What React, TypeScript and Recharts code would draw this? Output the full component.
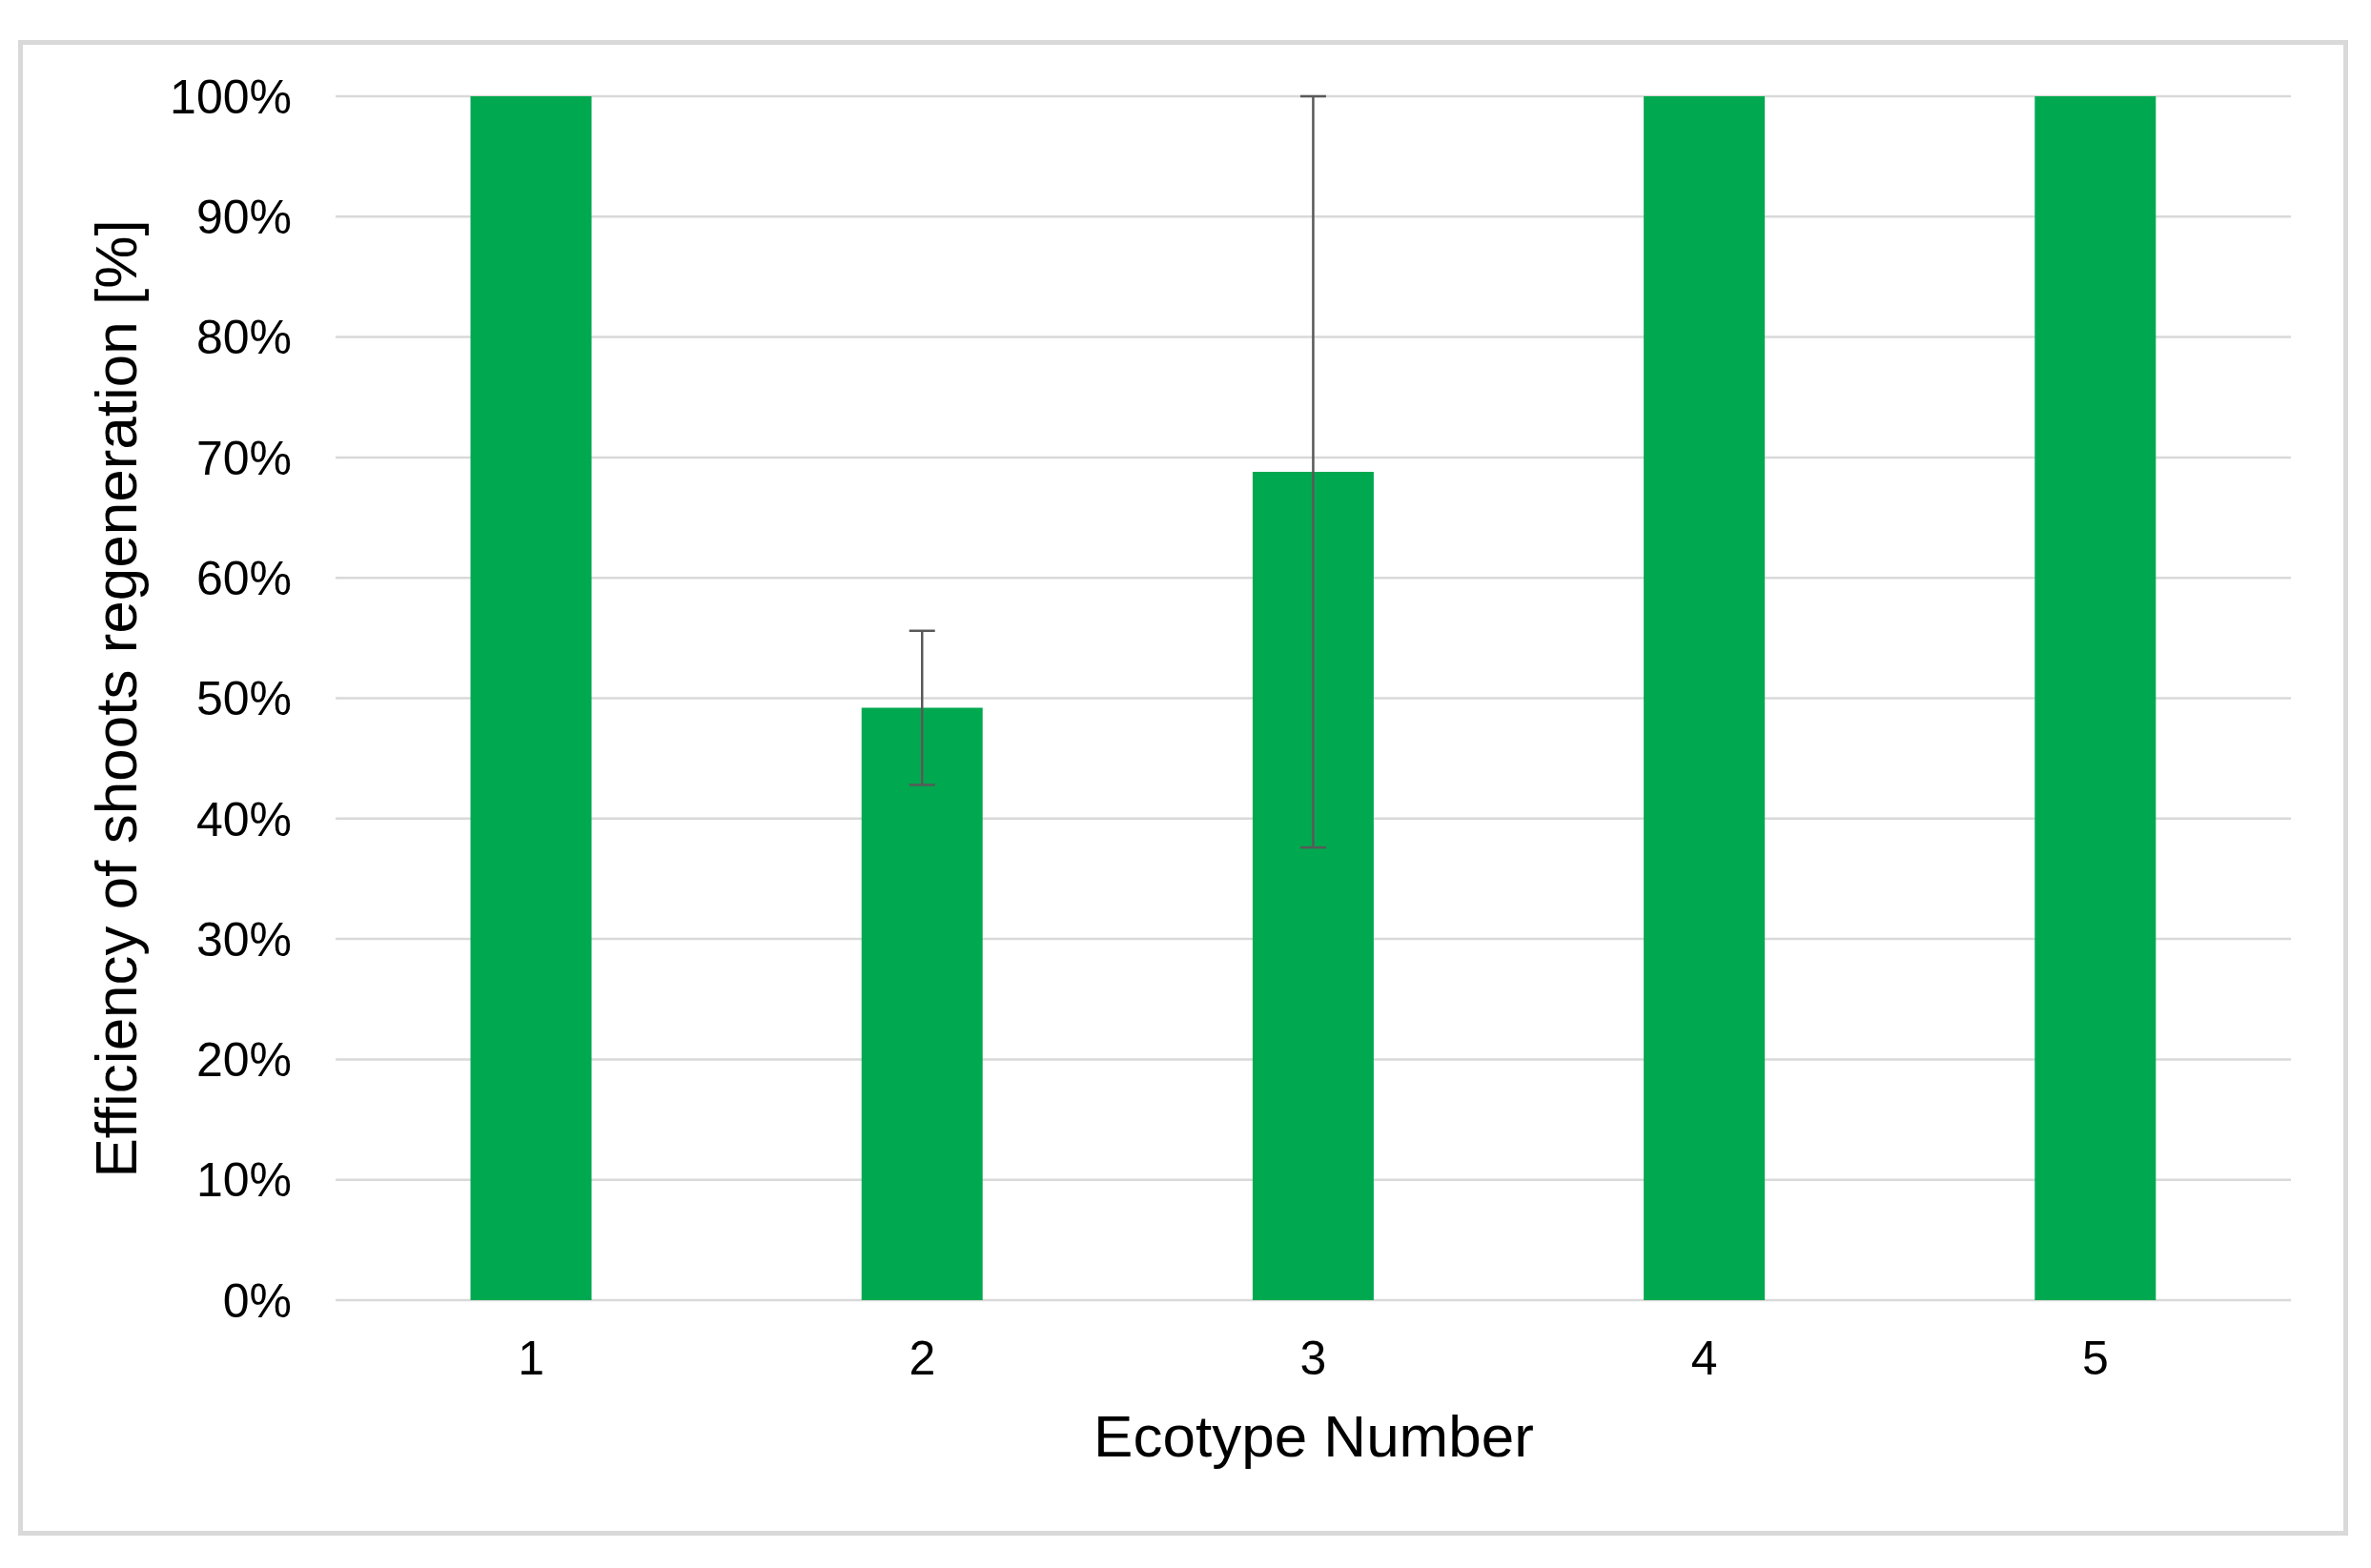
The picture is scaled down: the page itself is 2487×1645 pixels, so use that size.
import React from 'react';
import { BarChart, Bar, XAxis, YAxis, CartesianGrid, ErrorBar, Label } from 'recharts';

const ecotypes = ['1', '2', '3', '4', '5'];
const efficiency = [100, 49.2, 68.8, 100, 100];
const stdDev = [0, 6.4, 31.2, 0, 0];
const yTicks = [0, 10, 20, 30, 40, 50, 60, 70, 80, 90, 100];

const data = ecotypes.map((e, i) => ({ name: e, v: efficiency[i], err: stdDev[i] }));

const FONT = '"Liberation Sans", Arial, sans-serif';

export default function App() {
  return (
    <div style={{ position: 'absolute', left: 0, top: 0, width: 2487, height: 1645, background: '#fff', fontFamily: FONT }}>
      <div
        style={{
          position: 'absolute',
          left: 19,
          top: 42,
          width: 2444,
          height: 1569,
          border: '5px solid #d9d9d9',
          boxSizing: 'border-box',
        }}
      />
      <div style={{ position: 'absolute', left: 0, top: 0 }}>
        <BarChart
          width={2487}
          height={1645}
          data={data}
          margin={{ top: 101, right: 84, left: 0, bottom: 0 }}
          barCategoryGap="34.5%"
        >
          <CartesianGrid vertical={false} stroke="#d9d9d9" strokeWidth={2.5} />
          <XAxis
            dataKey="name"
            height={281}
            axisLine={false}
            tickLine={false}
            tickSize={0}
            tickMargin={42}
            tick={{ fontSize: 50, fill: '#000', fontFamily: FONT }}
          >
            <Label
              content={() => (
                <text x={1378} y={1528} textAnchor="middle" fontSize={62} fill="#000" fontFamily={FONT}>
                  Ecotype Number
                </text>
              )}
            />
          </XAxis>
          <YAxis
            width={352}
            domain={[0, 100]}
            ticks={yTicks}
            interval={0}
            axisLine={false}
            tickLine={false}
            tickSize={0}
            tickMargin={46}
            tickFormatter={(v) => `${v}%`}
            tick={{ fontSize: 50, fill: '#000', fontFamily: FONT }}
          >
            <Label
              content={() => (
                <text
                  transform="translate(143,733) rotate(-90)"
                  textAnchor="middle"
                  fontSize={62}
                  fill="#000"
                  fontFamily={FONT}
                >
                  Efficiency of shoots regeneration [%]
                </text>
              )}
            />
          </YAxis>
          <Bar dataKey="v" fill="#00a94f" isAnimationActive={false}>
            <ErrorBar dataKey="err" width={13.5} stroke="#595959" strokeWidth={2.5} direction="y" />
          </Bar>
        </BarChart>
      </div>
    </div>
  );
}
